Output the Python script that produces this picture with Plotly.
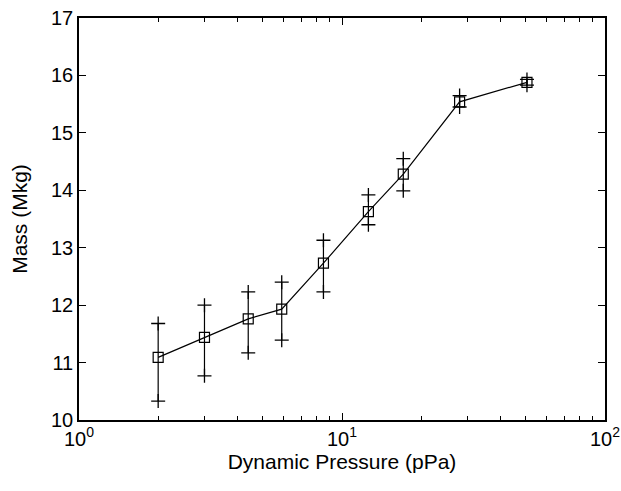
import plotly.graph_objects as go

pressure = [2.0, 3.0, 4.4, 5.9, 8.5, 12.6, 17.1, 28.0, 50.5]
mass = [11.09, 11.44, 11.76, 11.93, 12.73, 13.63, 14.28, 15.54, 15.88]
err_plus = [0.59, 0.56, 0.47, 0.47, 0.40, 0.29, 0.27, 0.11, 0.05]
err_minus = [0.76, 0.67, 0.59, 0.54, 0.50, 0.23, 0.29, 0.09, 0.05]

x_ticks = [1, 10, 100]
x_ticktext = ["10<sup>0</sup>", "10<sup>1</sup>", "10<sup>2</sup>"]
y_ticks = [10, 11, 12, 13, 14, 15, 16, 17]

upper = [m + e for m, e in zip(mass, err_plus)]
lower = [m - e for m, e in zip(mass, err_minus)]

fig = go.Figure()
fig.add_trace(go.Scatter(
    x=pressure, y=mass, mode="lines+markers",
    line=dict(color="black", width=1.2),
    marker=dict(symbol="square-open", size=10, color="black", line=dict(width=1.2)),
    error_y=dict(type="data", symmetric=False, array=err_plus, arrayminus=err_minus,
                 color="black", thickness=1.2, width=0),
    showlegend=False,
))
fig.add_trace(go.Scatter(
    x=pressure + pressure, y=upper + lower, mode="markers",
    marker=dict(symbol="cross-thin-open", size=10, color="black", line=dict(width=1.3, color="black")),
    showlegend=False,
))

font = "Liberation Sans, Arial, sans-serif"
fig.update_layout(
    width=621, height=491,
    margin=dict(l=79, r=16, t=18, b=71),
    plot_bgcolor="white", paper_bgcolor="white",
    font=dict(family=font, size=20, color="black"),
)
fig.update_xaxes(
    type="log", range=[0, 2], tickvals=x_ticks, ticktext=x_ticktext,
    ticks="inside", ticklen=7, tickcolor="black", tickwidth=1,
    showline=True, linecolor="black", linewidth=1.5, mirror="ticks",
    showgrid=False, zeroline=False, automargin=False,
    minor=dict(ticks="inside", ticklen=4, tickcolor="black",
               tickvals=[2, 3, 4, 5, 6, 7, 8, 9, 20, 30, 40, 50, 60, 70, 80, 90], showgrid=False),
    title=dict(text="Dynamic Pressure (pPa)", font=dict(size=21), standoff=0),
    tickfont=dict(size=20),
)
fig.update_yaxes(
    range=[10, 17], tickvals=y_ticks,
    ticks="inside", ticklen=7, tickcolor="black", tickwidth=1,
    showline=True, linecolor="black", linewidth=1.5, mirror="ticks",
    showgrid=False, zeroline=False, automargin=False,
    title=dict(text="Mass (Mkg)", font=dict(size=21), standoff=18),
    tickfont=dict(size=20),
)
fig.write_html("out.html", config={"displayModeBar": False},
               post_script="document.body.style.margin='0';document.body.style.overflow='hidden';")
